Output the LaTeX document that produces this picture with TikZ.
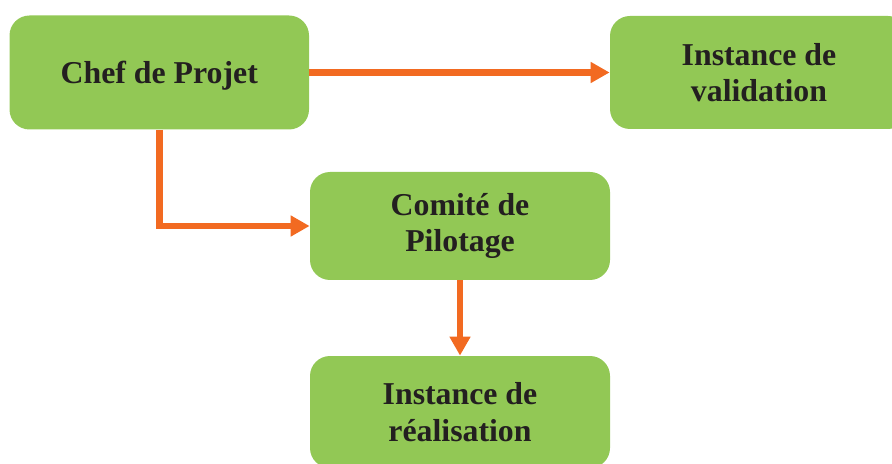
\documentclass[tikz,border=0pt]{standalone}
\usepackage{fontspec}
\setmainfont{Liberation Serif}
\usetikzlibrary{arrows.meta}
\definecolor{boxgreen}{RGB}{146,200,85}
\definecolor{linkorange}{RGB}{242,106,33}
\definecolor{textdark}{RGB}{35,31,32}
\begin{document}
\begin{tikzpicture}[x=0.5pt,y=-0.5pt,
  box/.style={fill=boxgreen, rounded corners=10pt, inner sep=0pt, align=center,
    font=\bfseries\fontsize{15.9}{18.35}\selectfont, text=textdark},
  link/.style={draw=linkorange, line width=3.3pt, -{Triangle[width=10pt,length=9.5pt]}}]
\useasboundingbox (0,0) rectangle (892,464);
\clip (0,0) rectangle (892,464);
\node[box, minimum width=149.75pt, minimum height=57pt, text depth=0pt] (chef) at (159.25,72.5) {Chef de Projet};
\node[box, minimum width=149pt, minimum height=56.5pt] (val) at (759,72.5) {Instance de\\validation};
\node[box, minimum width=150pt, minimum height=54pt] (com) at (460,226) {Comité de\\Pilotage};
\node[box, minimum width=150pt, minimum height=56pt] (real) at (460,412) {Instance de\\réalisation};
\draw[link] (chef.east) -- (val.west);
\draw[link] (chef.south) |- (com.west);
\draw[link] (com.south) -- (real.north);
\end{tikzpicture}
\end{document}
